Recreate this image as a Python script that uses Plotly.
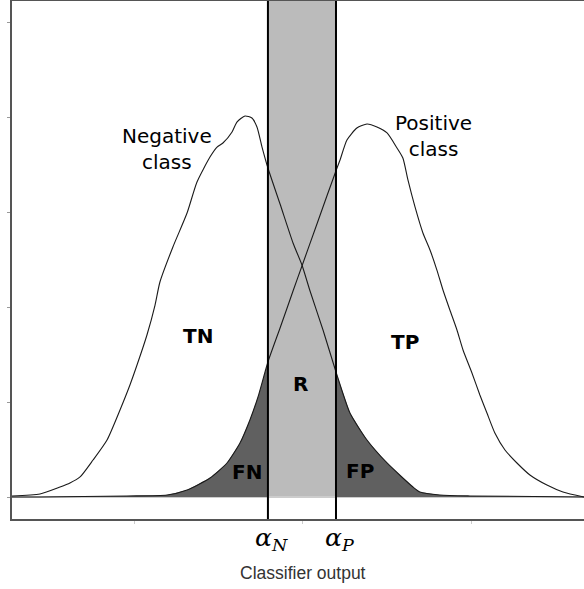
import numpy as np
import plotly.graph_objects as go

# Classifier output (x) and class densities (y)
neg_x = [-1.727, -1.561, -1.442, -1.383, -1.323, -1.246, -1.163, -1.086, -1.027, -0.985,
         -0.926, -0.878, -0.849, -0.772, -0.688, -0.629, -0.552, -0.510, -0.475, -0.421,
         -0.392, -0.344, -0.303, -0.273, -0.243, -0.208, -0.136, -0.059, -0.006, 0.042,
         0.119, 0.196, 0.279, 0.380, 0.499, 0.653, 0.694, 0.813, 0.991, 1.668]
neg_y = [0.011, 0.032, 0.105, 0.147, 0.211, 0.389, 0.600, 0.916, 1.179, 1.389,
         1.705, 2.021, 2.263, 2.632, 2.989, 3.316, 3.579, 3.684, 3.726, 3.842,
         3.947, 4.011, 3.989, 3.895, 3.684, 3.463, 3.084, 2.674, 2.442, 2.168,
         1.758, 1.316, 0.884, 0.600, 0.358, 0.105, 0.053, 0.021, 0.011, 0.0]

pos_x = [-1.727, -1.561, -1.045, -0.807, -0.688, -0.552, -0.451, -0.374, -0.315, -0.267,
         -0.208, -0.136, -0.059, -0.006, 0.083, 0.142, 0.202, 0.220, 0.261, 0.320,
         0.380, 0.439, 0.499, 0.558, 0.593, 0.623, 0.665, 0.712, 0.754, 0.795,
         0.831, 0.872, 0.914, 0.950, 1.003, 1.050, 1.092, 1.139, 1.199, 1.270,
         1.347, 1.448, 1.543, 1.668]
pos_y = [0.0, 0.0, 0.011, 0.021, 0.074, 0.200, 0.358, 0.568, 0.811, 1.053,
         1.421, 1.779, 2.168, 2.432, 2.874, 3.168, 3.463, 3.547, 3.758, 3.884,
         3.926, 3.895, 3.832, 3.674, 3.568, 3.337, 3.053, 2.779, 2.600, 2.389,
         2.179, 1.968, 1.758, 1.547, 1.305, 1.074, 0.884, 0.674, 0.495, 0.358,
         0.232, 0.126, 0.053, 0.0]

alpha_N = -0.208
alpha_P = 0.196
x_ticks = [-1, 0, 1]
y_ticks = [0, 1, 2, 3, 4, 5]
x_range = [-1.727, 1.668]
y_range = [-0.2316, 5.2211]

neg_x = np.array(neg_x); neg_y = np.array(neg_y)
pos_x = np.array(pos_x); pos_y = np.array(pos_y)

# False negative region: under positive curve left of alpha_N
m = pos_x < alpha_N
fn_x = np.concatenate([pos_x[m], [alpha_N, alpha_N, pos_x[0]]])
fn_y = np.concatenate([pos_y[m], [np.interp(alpha_N, pos_x, pos_y), 0, 0]])
# False positive region: under negative curve right of alpha_P
m2 = neg_x > alpha_P
fp_x = np.concatenate([[alpha_P], [alpha_P], neg_x[m2], [neg_x[-1]]])
fp_y = np.concatenate([[0], [np.interp(alpha_P, neg_x, neg_y)], neg_y[m2], [0]])

fig = go.Figure()
fig.add_trace(go.Scatter(x=fn_x, y=fn_y, fill='toself', fillcolor='#606060',
                         line=dict(width=0), mode='lines', hoverinfo='skip'))
fig.add_trace(go.Scatter(x=fp_x, y=fp_y, fill='toself', fillcolor='#606060',
                         line=dict(width=0), mode='lines', hoverinfo='skip'))
fig.add_trace(go.Scatter(x=neg_x, y=neg_y, mode='lines', line_shape='spline',
                         line=dict(color='#1a1a1a', width=1.1, smoothing=0.6),
                         name='Negative class'))
fig.add_trace(go.Scatter(x=pos_x, y=pos_y, mode='lines', line_shape='spline',
                         line=dict(color='#1a1a1a', width=1.1, smoothing=0.6),
                         name='Positive class'))

shapes = [
    dict(type='rect', xref='x', yref='y', x0=alpha_N, x1=alpha_P, y0=0, y1=y_range[1],
         fillcolor='#bbbbbb', line=dict(width=0), layer='below'),
    dict(type='line', xref='x', yref='paper', x0=alpha_N, x1=alpha_N, y0=0, y1=1,
         line=dict(color='black', width=2)),
    dict(type='line', xref='x', yref='paper', x0=alpha_P, x1=alpha_P, y0=0, y1=1,
         line=dict(color='black', width=2)),
]

annotations = []
def lab(x, y, t, size=20, bold=False):
    annotations.append(dict(x=x, y=y, xref='x', yref='y', text=(f'<b>{t}</b>' if bold else t),
                            showarrow=False, align='center',
                            font=dict(family='DejaVu Sans', size=size, color='black')))

lab(-0.807, 3.668, 'Negative<br>class')
lab(0.772, 3.795, 'Positive<br>class')
lab(-0.623, 1.695, 'TN', bold=True)
lab(0.605, 1.632, 'TP', bold=True)
lab(-0.012, 1.189, 'R', bold=True)
lab(-0.332, 0.263, 'FN', bold=True)
lab(0.338, 0.274, 'FP', bold=True)

for xv, sub in [(alpha_N, 'N'), (alpha_P, 'P')]:
    annotations.append(dict(x=xv, y=0, xref='x', yref='paper', yanchor='top', xanchor='center',
                            text=f'<i>α</i><sub><i>{sub}</i></sub>', showarrow=False, yshift=-2,
                            xshift=4,
                            font=dict(family='DejaVu Serif', size=25, color='black')))
annotations.append(dict(x=0, y=0, xref='x', yref='paper', yanchor='middle',
                        text='Classifier output', showarrow=False, yshift=-54,
                        font=dict(family='Liberation Sans', size=17.5, color='#333333')))

fig.update_layout(
    width=584, height=589, showlegend=False,
    margin=dict(l=12, r=0, t=1, b=70),
    plot_bgcolor='white', paper_bgcolor='white',
    shapes=shapes, annotations=annotations,
    xaxis=dict(range=x_range, showgrid=False, zeroline=False, showline=True,
               linecolor='#555555', linewidth=2, mirror=True,
               tickvals=x_ticks, showticklabels=False, ticks='outside', ticklen=3,
               tickcolor='#cccccc', tickwidth=1),
    yaxis=dict(range=y_range, showgrid=False, zeroline=True, zerolinecolor='#cccccc',
               zerolinewidth=2, showline=True, linecolor='#555555', linewidth=2,
               tickvals=y_ticks, showticklabels=False, ticks='outside', ticklen=3,
               tickcolor='#999999', tickwidth=1),
)

fig.write_html('out.html', config={'displayModeBar': False},
               post_script="document.body.style.margin='0';document.body.style.overflow='hidden';")
